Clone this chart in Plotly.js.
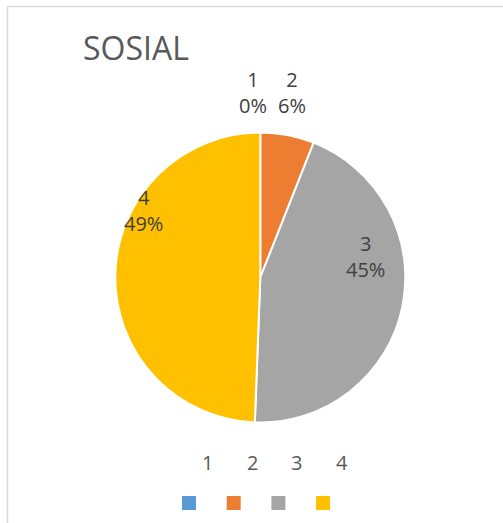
<!DOCTYPE html>
<html>
<head>
<meta charset="utf-8">
<script src="https://cdn.plot.ly/plotly-3.0.1.min.js"></script>
<style>
  html, body { margin: 0; padding: 0; background: #fff; }
  #chart { width: 503px; height: 523px; }
</style>
</head>
<body>
<div id="chart"></div>
<script>
// ---- data ----
const categories = ['1', '2', '3', '4'];
const values = [0, 6, 44.6, 49.4];
const colors = ['#5B9BD5', '#ED7D31', '#A5A5A5', '#FFC000'];
const chartTitle = 'SOSIAL';

// ---- layout helpers (pixel -> paper) ----
const W = 503, H = 523;
const px = x => x / W;
const py = y => 1 - y / H;

const cx = 260.3, cy = 277.5, r = 145;

const total = values.reduce((a, b) => a + b, 0);
const pct = values.map(v => Math.round(v / total * 100));

// data label positions (Excel best-fit placements)
const labelPos = [[253, 93], [292, 93], [365, 256], [143, 211]];

const annotations = categories.map((c, i) => ({
  xref: 'paper', yref: 'paper',
  x: px(labelPos[i][0]), y: py(labelPos[i][1]),
  xanchor: 'center', yanchor: 'middle',
  text: c + '<br>' + pct[i] + '%',
  showarrow: false,
  font: { family: 'Open Sans, sans-serif', size: 20, color: '#404040' }
}));

// legend: labels above small squares
const shapes = [];
categories.forEach((c, i) => {
  const sx = 189 + 44.7 * i;
  shapes.push({
    type: 'rect', xref: 'paper', yref: 'paper',
    x0: px(sx - 7), x1: px(sx + 7), y0: py(510), y1: py(496),
    fillcolor: colors[i], line: { width: 0 }
  });
  annotations.push({
    xref: 'paper', yref: 'paper',
    x: px(sx + 18.5), y: py(462.5),
    xanchor: 'center', yanchor: 'middle',
    text: c, showarrow: false,
    font: { family: 'Open Sans, sans-serif', size: 20, color: '#595959' }
  });
});

// chart border (top and left visible)
shapes.push({ type: 'line', xref: 'paper', yref: 'paper', x0: px(7.5), x1: 1.02, y0: py(6.5), y1: py(6.5), line: { color: '#D9D9D9', width: 1.5 } });
shapes.push({ type: 'line', xref: 'paper', yref: 'paper', x0: px(7.5), x1: px(7.5), y0: py(6.5), y1: -0.02, line: { color: '#D9D9D9', width: 1.5 } });

const trace = {
  type: 'pie',
  labels: categories,
  values: values,
  sort: false,
  direction: 'clockwise',
  rotation: 0,
  textinfo: 'none',
  hoverinfo: 'label+percent',
  marker: { colors: colors, line: { color: '#FFFFFF', width: 2 } },
  domain: { x: [px(cx - r), px(cx + r)], y: [py(cy + r), py(cy - r)] },
  automargin: false,
  showlegend: false
};

const layout = {
  width: W, height: H,
  margin: { l: 0, r: 0, t: 0, b: 0 },
  paper_bgcolor: '#FFFFFF',
  plot_bgcolor: '#FFFFFF',
  showlegend: false,
  title: {
    text: chartTitle,
    x: px(83), xanchor: 'left', xref: 'paper',
    y: py(48.5), yanchor: 'middle', yref: 'paper',
    font: { family: 'Open Sans, sans-serif', size: 32, color: '#595959' }
  },
  annotations: annotations,
  shapes: shapes
};

Plotly.newPlot('chart', [trace], layout, { displayModeBar: false, staticPlot: true });
</script>
</body>
</html>
